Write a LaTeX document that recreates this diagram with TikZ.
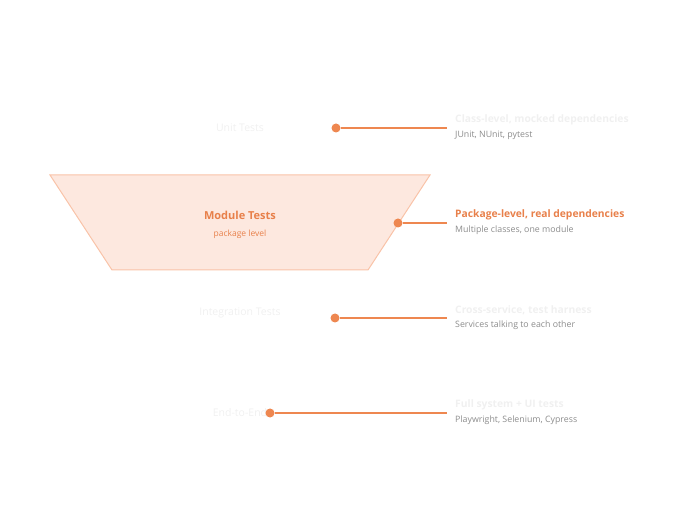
\documentclass[tikz,border=0pt]{standalone}
\usepackage{fontspec}
\setmainfont{Open Sans}
\definecolor{org}{HTML}{EE8750}
\definecolor{orgt}{HTML}{E8804A}
\definecolor{faint}{HTML}{F0F0F0}
\definecolor{gr}{HTML}{8C8C8C}
\definecolor{tfill}{HTML}{FDE8DF}
\definecolor{tline}{HTML}{F9C3A8}
\begin{document}
\begin{tikzpicture}[x=1pt,y=-1pt,
  dot/.style={circle,fill=org,inner sep=0pt,minimum size=9pt},
  conn/.style={draw=org,line width=1.4pt},
  ttl/.style={anchor=west,font=\fontsize{10.3}{12}\selectfont,inner sep=0pt},
  sub/.style={anchor=west,font=\fontsize{8.8}{10}\selectfont,text=gr,inner sep=0pt},
  lvl/.style={font=\fontsize{10.5}{12}\selectfont,text=faint,inner sep=0pt}]
\useasboundingbox (0,0) rectangle (680,510);
\draw[fill=tfill,draw=tline,line width=1pt] (50,175) -- (430,175) -- (368,270) -- (112,270) -- cycle;
\node[font=\fontsize{11}{13}\selectfont\bfseries,text=orgt] (mt) at (240,215) {Module Tests};
\node[font=\fontsize{8.5}{10}\selectfont,text=orgt] (ml) at (240,234) {package level};
\node[lvl] (ut) at (240,128) {Unit Tests};
\node[lvl] (it) at (240,313) {Integration Tests};
\node[lvl] (ee) at (240,413) {End-to-End};
\foreach \n/\y/\x in {a/128/336,b/223/398,c/318/335,d/413/270}{
  \node[dot] (d\n) at (\x,\y) {};
  \coordinate (e\n) at (447,\y);
  \draw[conn] (d\n) -- (e\n);
}
\node[ttl,text=faint] (t1) at (455,120) {\bfseries Class-level, mocked dependencies};
\node[sub] (s1) at (455,135) {JUnit, NUnit, pytest};
\node[ttl,text=orgt] (t2) at (455,215) {\bfseries Package-level, real dependencies};
\node[sub] (s2) at (455,230) {Multiple classes, one module};
\node[ttl,text=faint] (t3) at (455,310) {\bfseries Cross-service, test harness};
\node[sub] (s3) at (455,325) {Services talking to each other};
\node[ttl,text=faint] (t4) at (455,405) {\bfseries Full system + UI tests};
\node[sub] (s4) at (455,420) {Playwright, Selenium, Cypress};
\end{tikzpicture}
\end{document}
